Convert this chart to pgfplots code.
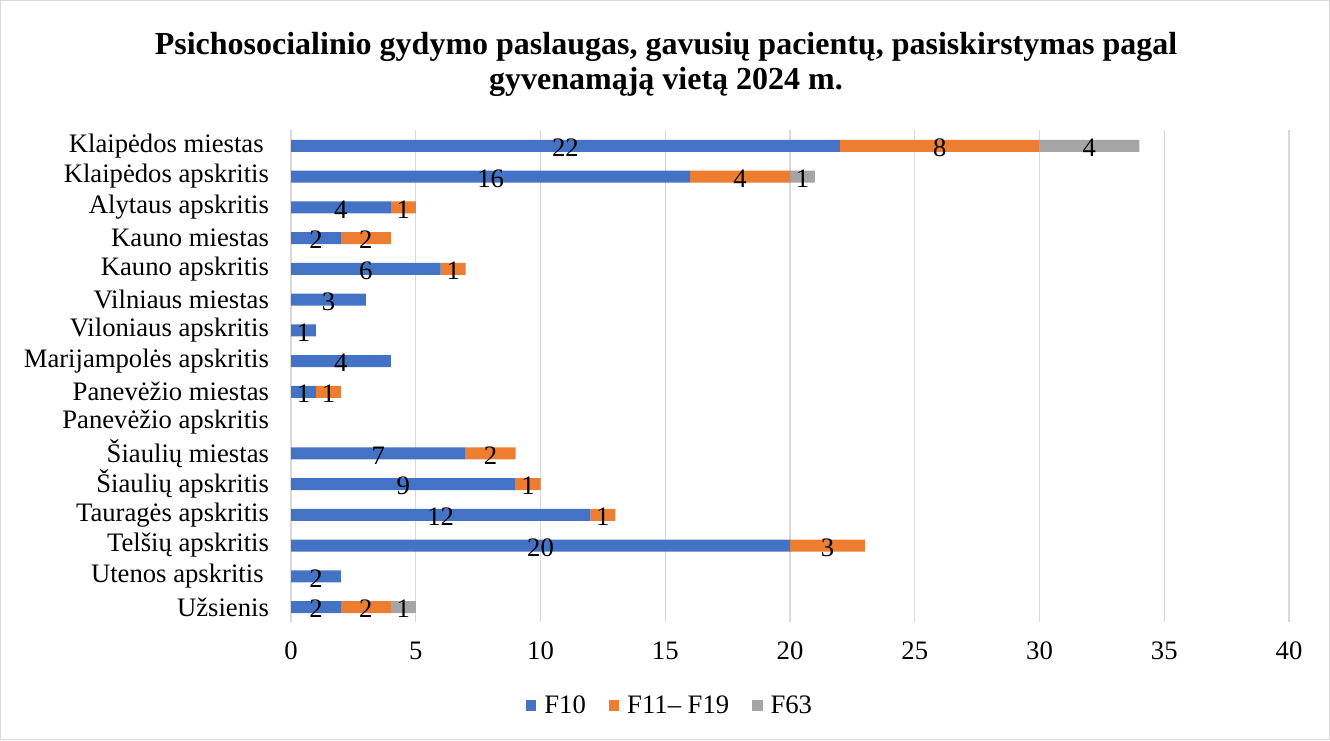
\documentclass[border=0pt]{standalone}
\usepackage{fontspec}
\setmainfont{Liberation Serif}
\usepackage{pgfplots}
\usepackage{pgfplotstable}
\pgfplotsset{compat=1.18}
\definecolor{cf10}{HTML}{4472C4}
\definecolor{cf11}{HTML}{ED7D31}
\definecolor{cf63}{HTML}{A5A5A5}
\definecolor{gridgray}{HTML}{D9D9D9}

\pgfplotstableread[col sep=comma]{
label,f10,f11,f63
{Klaipėdos miestas\hspace*{4pt}},22,8,4
Klaipėdos apskritis,16,4,1
Alytaus apskritis,4,1,0
Kauno miestas,2,2,0
Kauno apskritis,6,1,0
Vilniaus miestas,3,0,0
Viloniaus apskritis,1,0,0
Marijampolės apskritis,4,0,0
Panevėžio miestas,1,1,0
Panevėžio apskritis,0,0,0
Šiaulių miestas,7,2,0
Šiaulių apskritis,9,1,0
Tauragės apskritis,12,1,0
Telšių apskritis,20,3,0
{Utenos apskritis\hspace*{4pt}},2,0,0
Užsienis,2,2,1
}\regions

\newcommand{\lbl}{\fontsize{20}{23}\selectfont}

\begin{document}
\begin{tikzpicture}
\useasboundingbox (0,0) rectangle (997.5pt,555pt);
\draw[gridgray, line width=0.8pt] (0.6pt,0.6pt) rectangle (996.9pt,554.4pt);
\node[align=center, font=\fontsize{24}{26.25}\selectfont\bfseries] at (499.5pt,507pt)
  {Psichosocialinio gydymo paslaugas, gavusių pacientų, pasiskirstymas pagal\\gyvenamąją vietą 2024 m.};
\begin{axis}[
  at={(218.25pt,88.2pt)}, anchor=south west,
  scale only axis, width=748.5pt, height=369pt,
  xbar stacked, bar width=9pt,
  xmin=0, xmax=40, xtick distance=5,
  ymin=-0.5, ymax=15.5, y dir=reverse,
  ytick=data, yticklabels from table={\regions}{label},
  axis line style={draw=none}, major tick length=0pt,
  xmajorgrids, grid style={gridgray, line width=1pt},
  tick label style={font=\lbl},
  /pgf/number format/assume math mode=true,
  yticklabel style={xshift=-13pt},
  xticklabel style={yshift=-11pt},
  nodes near coords={\ifdim\rawv pt=0pt\else\pgfmathprintnumber{\rawv}\fi},
  every node near coord/.append style={font=\lbl, anchor=center, yshift=-1.5pt, text=black},
  legend style={at={(0.38,-0.169)}, anchor=center, legend columns=-1, draw=none, font=\lbl,
    /tikz/every odd column/.append style={column sep=4pt},
    /tikz/every even column/.append style={column sep=15pt}},
  legend image code/.code={\draw[#1,draw=none] (0pt,-4pt) rectangle (8pt,4pt);},
]
\addplot[fill=cf10, draw=none, visualization depends on={\thisrow{f10} \as \rawv}]
  table[x=f10, y expr=\coordindex] {\regions};
\addlegendentry{F10}
\addplot[fill=cf11, draw=none, visualization depends on={\thisrow{f11} \as \rawv}]
  table[x=f11, y expr=\coordindex] {\regions};
\addlegendentry{F11– F19}
\addplot[fill=cf63, draw=none, visualization depends on={\thisrow{f63} \as \rawv}]
  table[x=f63, y expr=\coordindex] {\regions};
\addlegendentry{F63}
\end{axis}
\end{tikzpicture}
\end{document}
